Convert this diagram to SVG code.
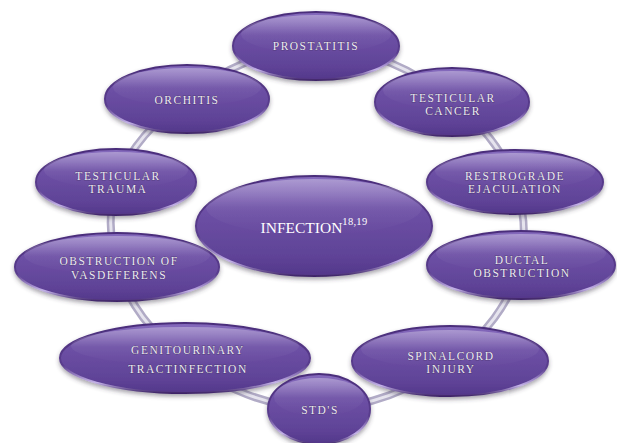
<svg xmlns="http://www.w3.org/2000/svg" width="617" height="443" viewBox="0 0 617 443">
<defs>
<linearGradient id="body" x1="0" y1="0" x2="0" y2="1">
<stop offset="0" stop-color="#856abd"/>
<stop offset="0.35" stop-color="#6d50a5"/>
<stop offset="0.8" stop-color="#5f4397"/>
<stop offset="1" stop-color="#53378a"/>
</linearGradient>
<linearGradient id="gloss" x1="0" y1="0" x2="0" y2="1">
<stop offset="0" stop-color="#ffffff" stop-opacity="0.33"/>
<stop offset="0.5" stop-color="#ffffff" stop-opacity="0.06"/>
<stop offset="1" stop-color="#ffffff" stop-opacity="0"/>
</linearGradient>
<linearGradient id="rim" x1="0" y1="0" x2="0" y2="1">
<stop offset="0" stop-color="#4a2d7a"/>
<stop offset="0.6" stop-color="#5a3d8e"/>
<stop offset="0.85" stop-color="#c2b0e6"/>
<stop offset="1" stop-color="#3e2468"/>
</linearGradient>
<filter id="sh" x="-20%" y="-20%" width="140%" height="150%">
<feDropShadow dx="0" dy="2.5" stdDeviation="2" flood-color="#3a3545" flood-opacity="0.45"/>
</filter>
</defs>
<style>
.node ellipse.b{fill:url(#body);stroke:url(#rim);stroke-width:2;filter:url(#sh)}
.node ellipse.g{fill:url(#gloss)}
.node text{font-family:"Liberation Serif","Times New Roman",Times,"DejaVu Serif",serif;font-size:11.5px;letter-spacing:1.5px;fill:#eeebf3;stroke:#3b2a58;stroke-width:0.5;paint-order:stroke;text-anchor:middle}
#infection text{font-size:15.5px;letter-spacing:0;fill:#ffffff;stroke:none}
#infection tspan.sup{font-size:10.5px;letter-spacing:0.3px}
.conn path{fill:none;stroke-linecap:round}
.conn .o{stroke:#b1abc6;stroke-width:8}
.conn .i{stroke:#e6e4ee;stroke-width:3}
</style>
<g id="connectors" class="conn">
<g class="o-set">
<path class="o" d="M316,46 A205,181 0 0 1 452,102"/>
<path class="o" d="M452,102 A205,181 0 0 1 515,182"/>
<path class="o" d="M515,182 A205,181 0 0 1 521,265"/>
<path class="o" d="M521,265 A205,181 0 0 1 450,361"/>
<path class="o" d="M450,361 A205,181 0 0 1 319,409"/>
<path class="o" d="M319,409 A205,181 0 0 1 185,358"/>
<path class="o" d="M185,358 A205,181 0 0 1 117,267"/>
<path class="o" d="M117,267 A205,181 0 0 1 116,182"/>
<path class="o" d="M116,182 A205,181 0 0 1 187,99"/>
<path class="o" d="M187,99 A205,181 0 0 1 316,46"/>
</g>
<g class="i-set">
<path class="i" d="M316,46 A205,181 0 0 1 452,102"/>
<path class="i" d="M452,102 A205,181 0 0 1 515,182"/>
<path class="i" d="M515,182 A205,181 0 0 1 521,265"/>
<path class="i" d="M521,265 A205,181 0 0 1 450,361"/>
<path class="i" d="M450,361 A205,181 0 0 1 319,409"/>
<path class="i" d="M319,409 A205,181 0 0 1 185,358"/>
<path class="i" d="M185,358 A205,181 0 0 1 117,267"/>
<path class="i" d="M117,267 A205,181 0 0 1 116,182"/>
<path class="i" d="M116,182 A205,181 0 0 1 187,99"/>
<path class="i" d="M187,99 A205,181 0 0 1 316,46"/>
</g>
</g>
<g id="infection" class="node">
<ellipse class="b" cx="314" cy="226" rx="118" ry="50"/>
<ellipse class="g" cx="314" cy="207" rx="108" ry="28"/>
<text x="314" y="233">INFECTION<tspan class="sup" dy="-8">18,19</tspan></text>
</g>
<g id="prostatitis" class="node">
<ellipse class="b" cx="316" cy="46" rx="83" ry="34"/>
<ellipse class="g" cx="316" cy="34" rx="75" ry="19"/>
<text x="316" y="50">PROSTATITIS</text>
</g>
<g id="testicular-cancer" class="node">
<ellipse class="b" cx="452" cy="102" rx="77" ry="34"/>
<ellipse class="g" cx="452" cy="90" rx="69" ry="19"/>
<text x="453" y="101.5">TESTICULAR</text>
<text x="453" y="115">CANCER</text>
</g>
<g id="restrograde-ejaculation" class="node">
<ellipse class="b" cx="515" cy="182" rx="88" ry="32"/>
<ellipse class="g" cx="515" cy="171" rx="80" ry="18"/>
<text x="515" y="179.5">RESTROGRADE</text>
<text x="515" y="193">EJACULATION</text>
</g>
<g id="ductal-obstruction" class="node">
<ellipse class="b" cx="521" cy="265" rx="94" ry="34"/>
<ellipse class="g" cx="521" cy="253" rx="85" ry="19"/>
<text x="522" y="263.5">DUCTAL</text>
<text x="522" y="277">OBSTRUCTION</text>
</g>
<g id="spinalcord-injury" class="node">
<ellipse class="b" cx="450" cy="361" rx="98" ry="35"/>
<ellipse class="g" cx="450" cy="349" rx="89" ry="19"/>
<text x="451" y="359.5">SPINALCORD</text>
<text x="451" y="373">INJURY</text>
</g>
<g id="genitourinary" class="node">
<ellipse class="b" cx="185" cy="358" rx="125" ry="35"/>
<ellipse class="g" cx="185" cy="346" rx="114" ry="19"/>
<text x="188" y="354">GENITOURINARY</text>
<text x="188" y="373">TRACTINFECTION</text>
</g>
<g id="stds" class="node">
<ellipse class="b" cx="319" cy="409" rx="51" ry="35"/>
<ellipse class="g" cx="319" cy="397" rx="45" ry="19"/>
<text x="320" y="414">STD'S</text>
</g>
<g id="obstruction-vasdeferens" class="node">
<ellipse class="b" cx="117" cy="267" rx="102" ry="34"/>
<ellipse class="g" cx="117" cy="255" rx="93" ry="19"/>
<text x="119" y="265">OBSTRUCTION OF</text>
<text x="119" y="278.5">VASDEFERENS</text>
</g>
<g id="testicular-trauma" class="node">
<ellipse class="b" cx="116" cy="182" rx="80" ry="33"/>
<ellipse class="g" cx="116" cy="170" rx="72" ry="18"/>
<text x="118" y="179.5">TESTICULAR</text>
<text x="118" y="193">TRAUMA</text>
</g>
<g id="orchitis" class="node">
<ellipse class="b" cx="187" cy="99" rx="82" ry="34"/>
<ellipse class="g" cx="187" cy="87" rx="74" ry="19"/>
<text x="187" y="104">ORCHITIS</text>
</g>
</svg>
